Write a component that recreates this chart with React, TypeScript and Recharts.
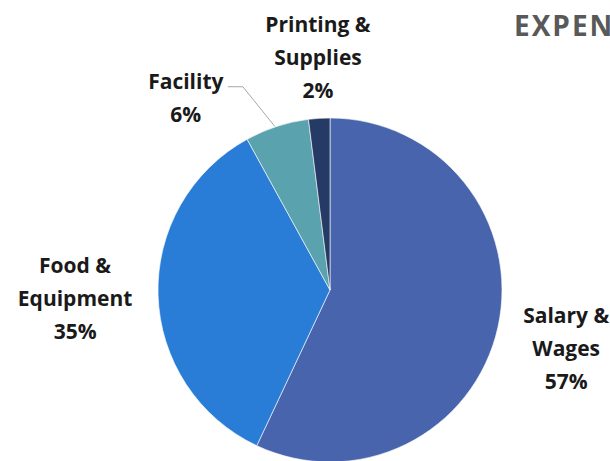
import React from 'react';
import { PieChart, Pie, Cell } from 'recharts';

const categories = ['Salary & Wages', 'Food & Equipment', 'Facility', 'Printing & Supplies'];
const shares = [57, 35, 6, 2];
const colors = ['#4864ac', '#2a7dd6', '#5aa2ae', '#263a66'];

const data = categories.map((name, i) => ({ name, value: shares[i] }));

const RAD = Math.PI / 180;
const FONT = '"Open Sans", Lato, sans-serif';

// small hand tweaks so labels land where the original put them
const labelNudge: Record<string, [number, number]> = {
  'Salary & Wages': [2, 6],
  'Food & Equipment': [-15, 0],
  Facility: [-70, 36],
  'Printing & Supplies': [3, 7],
};

const renderLabel = (props: any) => {
  const { cx, cy, midAngle, outerRadius, percent, name } = props;
  const r = outerRadius + 68;
  const [nx, ny] = labelNudge[name] || [0, 0];
  const x = cx + r * Math.cos(-midAngle * RAD) + nx;
  const y = cy + r * Math.sin(-midAngle * RAD) + ny;
  const lines = name.includes(' & ') ? [name.split(' & ')[0] + ' &', name.split(' & ')[1]] : [name];
  lines.push(`${Math.round(percent * 100)}%`);
  let leader = null;
  if (name === 'Facility') {
    const ex = cx + outerRadius * Math.cos(-midAngle * RAD);
    const ey = cy + outerRadius * Math.sin(-midAngle * RAD);
    leader = (
      <polyline
        points={`${x + 42},${y - 11} ${x + 57},${y - 11} ${ex - 2},${ey}`}
        fill="none"
        stroke="#a6a6a6"
        strokeWidth={1}
      />
    );
  }
  const lh = 33;
  const top = y - ((lines.length - 1) * lh) / 2;
  return (
    <g>
      {leader}
      <text
        x={x}
        y={top}
        textAnchor="middle"
        dominantBaseline="central"
        fill="#1a1a1a"
        fontFamily={FONT}
        fontWeight={700}
        fontSize={21}
      >
        {lines.map((l, i) => (
          <tspan key={i} x={x} y={top + i * lh}>
            {l}
          </tspan>
        ))}
      </text>
    </g>
  );
};

export default function App() {
  return (
    <div style={{ position: 'absolute', left: 0, top: 0, width: 610, height: 461, overflow: 'hidden', background: '#fff' }}>
      <div
        style={{
          position: 'absolute',
          left: 514,
          top: 6,
          fontFamily: FONT,
          fontWeight: 700,
          fontSize: 28,
          lineHeight: 'normal',
          color: '#595959',
          whiteSpace: 'nowrap',
          letterSpacing: 2,
        }}
      >
        EXPENSES
      </div>
      <PieChart width={610} height={461} margin={{ top: 0, right: 0, bottom: 0, left: 0 }}>
        <Pie
          data={data}
          dataKey="value"
          nameKey="name"
          cx={330}
          cy={290}
          outerRadius={172}
          startAngle={90}
          endAngle={-270}
          stroke="#ffffff"
          strokeWidth={0.6}
          label={renderLabel}
          labelLine={false}
          isAnimationActive={false}
        >
          {data.map((d, i) => (
            <Cell key={d.name} fill={colors[i]} />
          ))}
        </Pie>
      </PieChart>
    </div>
  );
}
